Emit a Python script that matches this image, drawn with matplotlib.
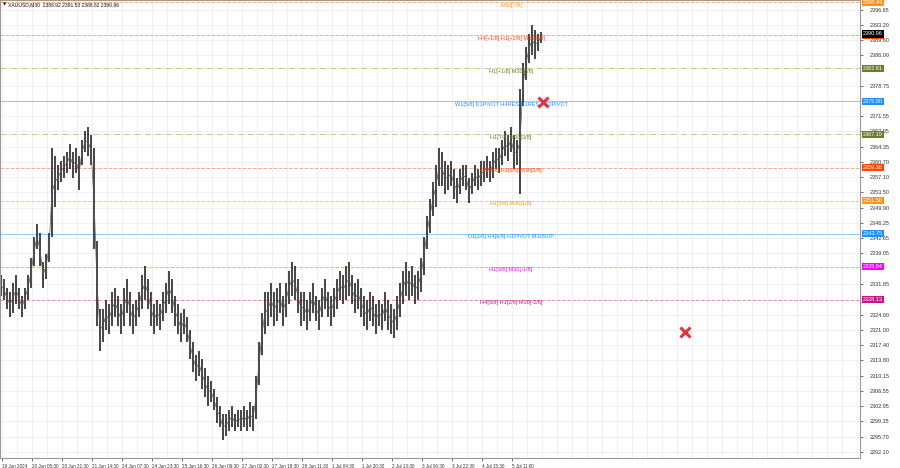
import matplotlib
matplotlib.use("Agg")
import matplotlib.pyplot as plt
import numpy as np

plt.rcParams["font.family"] = ["Liberation Sans Narrow", "Liberation Sans", "DejaVu Sans"]

# --------------------------------------------------
# data
# --------------------------------------------------

title = "XAUUSD,M30  2388.92 2391.53 2388.82 2390.96"

lows = [
    2329, 2328, 2326, 2324, 2325, 2327, 2326, 2324, 2326, 2328,
    2331, 2336, 2340, 2336, 2331, 2333, 2337, 2343, 2350, 2354,
    2356, 2357, 2358, 2359, 2357, 2358, 2354, 2360, 2363, 2362,
    2360, 2340, 2322, 2316, 2318, 2321, 2320, 2322, 2324, 2322,
    2320, 2322, 2325, 2322, 2320, 2322, 2324, 2326, 2328, 2326,
    2322, 2320, 2322, 2321, 2323, 2325, 2327, 2325, 2322, 2320,
    2318, 2320, 2318, 2314, 2311, 2309, 2310, 2307, 2305, 2303,
    2304, 2302, 2299, 2298, 2295, 2296, 2297, 2298, 2297, 2298,
    2297, 2298, 2297, 2298, 2297, 2300, 2308, 2315, 2320, 2322,
    2324, 2322, 2323, 2325, 2322, 2324, 2327, 2329, 2328, 2325,
    2322, 2323, 2321, 2323, 2325, 2323, 2321, 2324, 2326, 2324,
    2322, 2324, 2326, 2328, 2327, 2328, 2329, 2327, 2325, 2326,
    2324, 2322, 2321, 2323, 2322, 2320, 2322, 2321, 2323, 2321,
    2320, 2319, 2321, 2324, 2327, 2329, 2328, 2329, 2327, 2328,
    2330, 2334, 2340, 2344, 2348, 2350, 2355, 2355, 2353, 2354,
    2355, 2352, 2351, 2353, 2355, 2354, 2351, 2353, 2355, 2354,
    2355, 2356, 2357, 2356, 2357, 2359, 2358, 2360, 2362, 2361,
    2363, 2359, 2360, 2353, 2374, 2380, 2384, 2386, 2385, 2387,
    2388.8,
]
highs = [
    2334, 2333, 2331, 2330, 2332, 2334, 2331, 2329, 2331, 2334,
    2338, 2343, 2346, 2344, 2337, 2339, 2344, 2364, 2362, 2360,
    2361, 2362, 2363, 2365, 2363, 2364, 2362, 2366, 2368, 2369,
    2367, 2364, 2342, 2326, 2326, 2328, 2327, 2330, 2331, 2329,
    2327, 2331, 2333, 2330, 2327, 2328, 2330, 2334, 2336, 2333,
    2330, 2327, 2328, 2327, 2330, 2332, 2335, 2333, 2329, 2327,
    2325, 2326, 2324, 2321, 2318, 2315, 2316, 2314, 2312, 2310,
    2309, 2307, 2305, 2303, 2301, 2301, 2302, 2303, 2301, 2302,
    2302, 2303, 2302, 2304, 2303, 2310, 2318, 2325, 2330, 2330,
    2332, 2330, 2331, 2332, 2329, 2332, 2335, 2337, 2336, 2333,
    2330, 2330, 2328, 2330, 2332, 2329, 2328, 2331, 2333, 2330,
    2329, 2331, 2333, 2335, 2334, 2336, 2337, 2334, 2332, 2333,
    2331, 2329, 2328, 2330, 2329, 2327, 2328, 2327, 2330, 2328,
    2327, 2326, 2329, 2332, 2335, 2337, 2335, 2336, 2334, 2335,
    2338, 2343, 2348, 2352, 2356, 2360, 2364, 2363, 2361, 2360,
    2361, 2359, 2357, 2359, 2360, 2360, 2357, 2358, 2360, 2359,
    2361, 2361, 2362, 2361, 2363, 2364, 2364, 2366, 2368, 2367,
    2369, 2367, 2366, 2378, 2384, 2388, 2391, 2393, 2392, 2391,
    2391.5,
]

xtick_labels = [
    "19 Jun 2024", "20 Jun 05:30", "20 Jun 21:30", "21 Jun 14:30",
    "24 Jun 07:30", "24 Jun 23:30", "25 Jun 16:30", "26 Jun 09:30",
    "27 Jun 02:30", "27 Jun 18:30", "28 Jun 11:30", "1 Jul 04:30",
    "1 Jul 20:30", "2 Jul 13:30", "3 Jul 06:30", "3 Jul 22:30",
    "4 Jul 15:30", "5 Jul 11:00",
]

ytick_values = [
    2292.10, 2295.70, 2299.35, 2302.95, 2306.55, 2310.15, 2313.80,
    2317.40, 2321.00, 2324.60, 2331.85, 2339.05, 2342.65, 2346.25,
    2349.90, 2353.50, 2357.10, 2360.70, 2364.35, 2367.95, 2371.55,
    2378.75, 2386.00, 2389.60, 2393.20, 2396.65,
]

# murrey levels: price, colour, style, label
level_prices = [2398.44, 2390.63, 2382.81, 2375.00, 2367.19,
                2359.38, 2351.56, 2343.75, 2335.94, 2328.13]
level_colors = ["#f7941d", "#ff4500", "#6b7d2a", "#1e90ff", "#6b7d2a",
                "#ff4500", "#f7941d", "#1e90ff", "#ff00ff", "#c71585"]
level_line_colors = ["#f7b36a", "#ffa58a", "#c2c88e", "#8cc8f5", "#c2c88e",
                     "#ffa58a", "#f9c48a", "#8cc8f5", "#f59cf5", "#e48cb4"]
level_styles = ["--", "--", "-.", "-", "-.", "--", "--", "-", "--", "--"]
level_labels = [
    "M30[7/8]",
    "H4[+1/8] H1[+2/8] M30[8/8]",
    "H1[+1/8] M30[6/8]",
    "W1[5/8] D1PIVOT H4RES H1RES M30PIVOT",
    "H1[7/8] M30[3/8]",
    "H4[7/8] H1[6/8] M30[2/8]",
    "H1[5/8] M30[1/8]",
    "D1[3/8] H4[6/8] H1PIVOT M30SUP",
    "H1[3/8] M30[-1/8]",
    "H4[5/8] H1[2/8] M30[-2/8]",
]

cross_x = [180.7, 228.0]
cross_y = [2374.9, 2320.5]

last_price = 2390.96

# --------------------------------------------------
# figure
# --------------------------------------------------

W, H = 900, 468
fig = plt.figure(figsize=(W / 100, H / 100), dpi=100)
ax = fig.add_axes([0, 1 - 458 / H, 860 / W, 458 / H])

px_per_bar = 3.0
xmin = -1 / px_per_bar
xmax = xmin + 860 / px_per_bar
ax.set_xlim(xmin, xmax)
ax.set_ylim(2290.68, 2399.0)

# grid
for gx in np.arange(1 / 3, xmax, 5):
    ax.axvline(gx, color="#eeeeee", lw=0.6, zorder=0)
for gy in ytick_values:
    ax.axhline(gy, color="#eeeeee", lw=0.6, zorder=0)

# levels
for p, c, lc, ls, lab in zip(level_prices, level_colors, level_line_colors,
                             level_styles, level_labels):
    ax.axhline(p, color=lc, lw=0.7, ls=ls, zorder=1)
    ax.text(170, p - 0.2, lab, color=c, fontsize=4.0, ha="center", va="top",
            zorder=3)

# price bars
xs = np.arange(len(lows))
ax.vlines(xs, lows, highs, color="#262626", lw=1.2, zorder=2)
ax.plot(xs, (np.array(lows) + np.array(highs)) / 2, color="#555555",
        lw=0.5, zorder=2)

# crosses
ax.plot(cross_x, cross_y, "x", color="#e8313a", ms=7, mew=2.2, zorder=4)

# axes
ax.yaxis.tick_right()
ax.set_yticks(ytick_values, [f"{v:.2f}" for v in ytick_values])
ax.set_xticks(np.arange(len(xtick_labels)) * 10 + 1 / 3, xtick_labels)
ax.tick_params(axis="y", labelsize=4.0, length=2, width=0.5,
               colors="#333333", pad=5)
ax.tick_params(axis="x", labelsize=3.3, length=2, width=0.5,
               colors="#333333", pad=2)
for lab in ax.get_xticklabels():
    lab.set_ha("left")
for s in ax.spines.values():
    s.set_color("#999999")
    s.set_linewidth(0.8)

# price boxes on right scale
box_items = list(zip(level_prices, level_colors)) + [(last_price, "#000000")]
for p, c in box_items:
    ax.text(1.0035, p, f"{p:.2f}", transform=ax.get_yaxis_transform(),
            fontsize=4.0, color="white", va="center", ha="left",
            bbox=dict(boxstyle="square,pad=0.2", fc=c, ec="none"),
            clip_on=False, zorder=5)

fig.text(3 / W, 1 - 5 / H, "\u25bc", fontsize=3.2, va="center", ha="left",
         color="#111111", family="DejaVu Sans")
fig.text(8 / W, 1 - 5 / H, title, fontsize=3.6, va="center",
         ha="left", color="#111111")

fig.savefig("out.png", dpi=100)
